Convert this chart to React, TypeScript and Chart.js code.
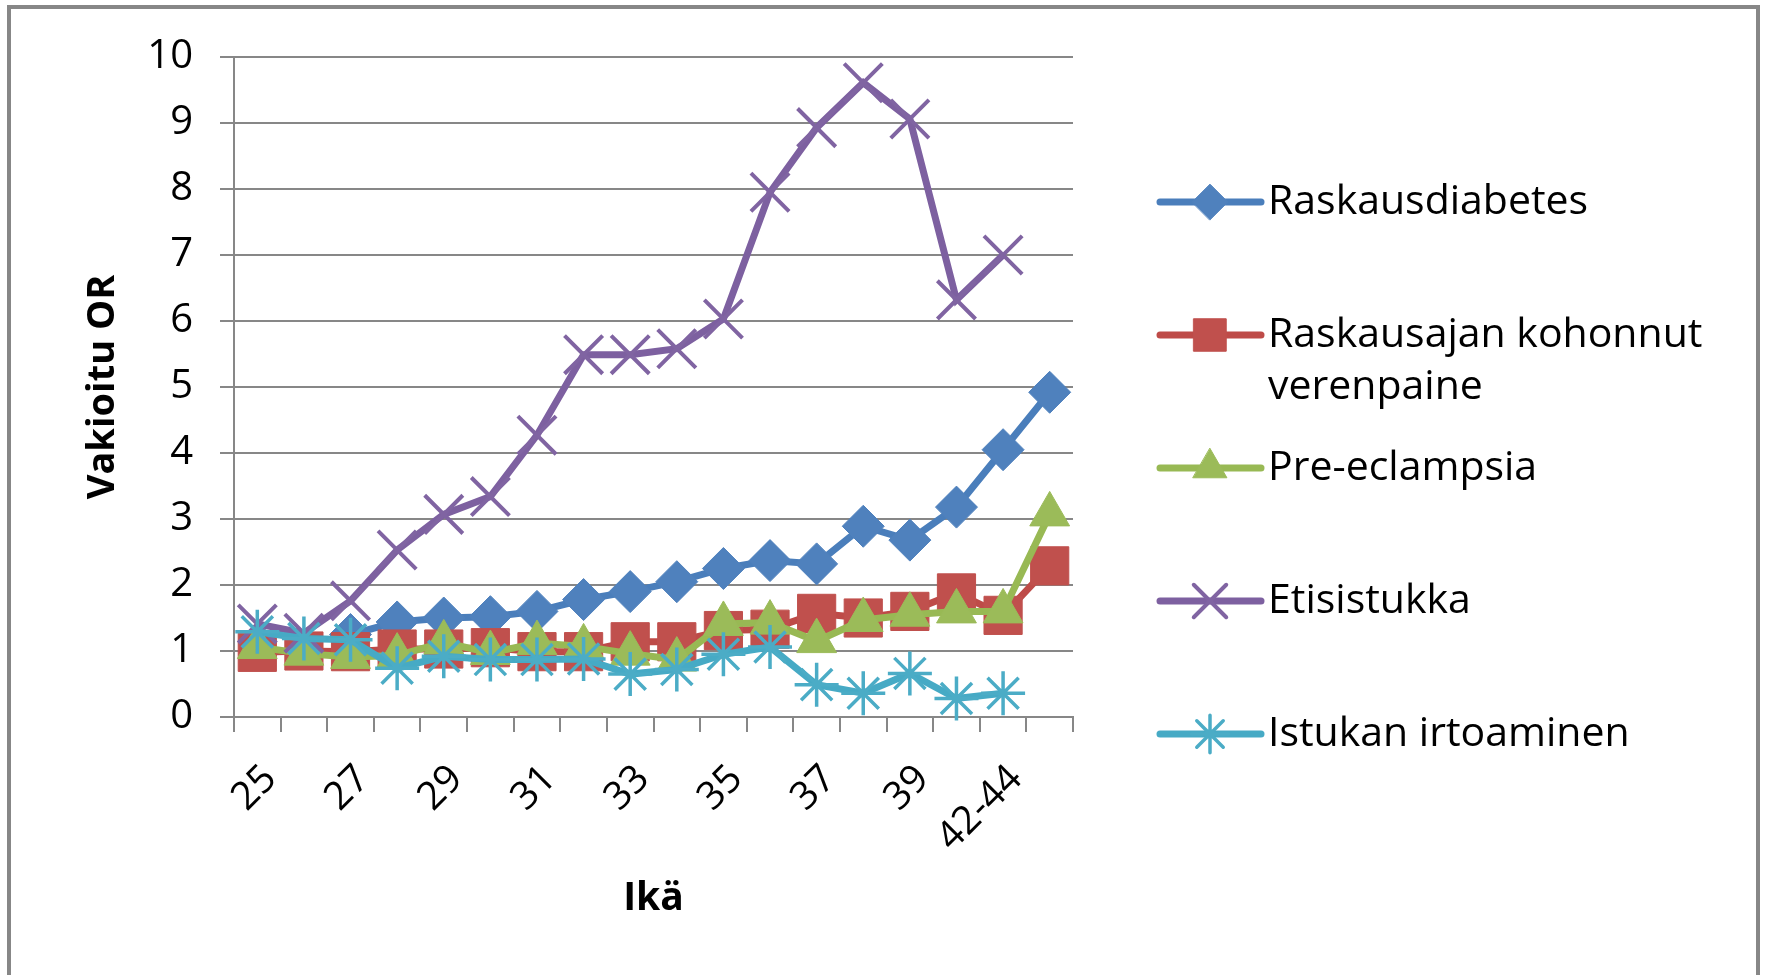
import React, { useEffect, useRef } from 'react';
import { Chart, registerables } from 'chart.js';
import { drawPoint } from 'chart.js/helpers';

Chart.register(...registerables);

// ---- Data ----
const categories = ['25', '26', '27', '28', '29', '30', '31', '32', '33', '34', '35', '36', '37', '38', '39', '40-41', '42-44', '45+'];
const shownTickLabels = ['25', '', '27', '', '29', '', '31', '', '33', '', '35', '', '37', '', '39', '', '42-44', ''];
const yTicks = [0, 1, 2, 3, 4, 5, 6, 7, 8, 9, 10];

const raskausdiabetes = [null, null, 1.25, 1.44, 1.5, 1.52, 1.6, 1.78, 1.9, 2.05, 2.25, 2.37, 2.32, 2.89, 2.68, 3.18, 4.05, 4.92];
const kohonnutVerenpaine = [0.98, 1.0, 0.99, 1.03, 1.03, 1.05, 0.99, 0.99, 1.14, 1.14, 1.31, 1.33, 1.57, 1.5, 1.6, 1.88, 1.54, 2.29];
const preEclampsia = [1.06, 0.96, 0.91, 0.93, 1.13, 0.97, 1.12, 1.07, 0.96, 0.87, 1.41, 1.43, 1.15, 1.47, 1.55, 1.6, 1.6, 3.07];
const etisistukka = [1.41, 1.27, 1.76, 2.53, 3.07, 3.34, 4.27, 5.49, 5.49, 5.58, 6.03, 7.95, 8.93, 9.61, 9.06, 6.32, 7.0, null];
const istukanIrtoaminen = [1.29, 1.19, 1.17, 0.74, 0.92, 0.87, 0.87, 0.88, 0.65, 0.72, 0.95, 1.06, 0.49, 0.36, 0.66, 0.28, 0.36, null];

const seriesNames = ['Raskausdiabetes', 'Raskausajan kohonnut verenpaine', 'Pre-eclampsia', 'Etisistukka', 'Istukan irtoaminen'];

const FONT = "'Open Sans', 'DejaVu Sans', sans-serif";
const GRID = '#878787';

const legendPlugin = {
  id: 'customLegend',
  afterDraw(chart: any) {
    const ctx: CanvasRenderingContext2D = chart.ctx;
    const lineX0 = 1160;
    const lineX1 = 1261;
    const markerX = 1210;
    const textX = 1268;
    const firstY = 202;
    const step = 133;
    const lineH = 52;
    const maxW = 1765 - textX - 12;
    ctx.save();
    ctx.font = `41px ${FONT}`;
    ctx.textBaseline = 'middle';
    ctx.textAlign = 'left';
    chart.data.datasets.forEach((ds: any, i: number) => {
      const y = firstY + i * step;
      ctx.save();
      ctx.strokeStyle = ds.borderColor;
      ctx.lineWidth = 7;
      ctx.lineCap = 'round';
      ctx.beginPath();
      ctx.moveTo(lineX0, y);
      ctx.lineTo(lineX1, y);
      ctx.stroke();
      ctx.fillStyle = ds.pointBackgroundColor;
      ctx.strokeStyle = ds.pointBorderColor;
      ctx.lineWidth = ds.pointBorderWidth;
      drawPoint(ctx, { pointStyle: ds.pointStyle, rotation: 0, radius: ds.pointRadius * 0.85, borderWidth: ds.pointBorderWidth }, markerX, y);
      ctx.restore();
      const words = String(ds.label).split(' ');
      const lines: string[] = [];
      let cur = '';
      for (const w of words) {
        const test = cur ? cur + ' ' + w : w;
        if (ctx.measureText(test).width > maxW && cur) {
          lines.push(cur);
          cur = w;
        } else {
          cur = test;
        }
      }
      if (cur) lines.push(cur);
      ctx.fillStyle = '#000';
      lines.forEach((ln, k) => ctx.fillText(ln, textX, y + k * lineH));
    });
    ctx.restore();
  },
};

export default function App() {
  const ref = useRef<HTMLCanvasElement>(null);
  useEffect(() => {
    document.body.style.margin = '0';
    const mk = (label: string, data: (number | null)[], line: string, fill: string, style: string, radius: number, bw: number, order: number) => ({
      label,
      data,
      borderColor: line,
      borderWidth: 7,
      pointStyle: style,
      pointRadius: radius,
      pointBackgroundColor: fill,
      pointBorderColor: fill,
      pointBorderWidth: bw,
      tension: 0,
      clip: false,
      order,
    });
    const chart = new Chart(ref.current as HTMLCanvasElement, {
      type: 'line',
      data: {
        labels: categories,
        datasets: [
          mk(seriesNames[0], raskausdiabetes, '#4a7ebb', '#4f81bd', 'rectRot', 21, 1, 5),
          mk(seriesNames[1], kohonnutVerenpaine, '#be4b48', '#c0504d', 'rect', 27, 1, 4),
          mk(seriesNames[2], preEclampsia, '#98b954', '#9bbb59', 'triangle', 23, 1, 3),
          mk(seriesNames[3], etisistukka, '#7d60a0', '#8064a2', 'crossRot', 27, 4, 2),
          mk(seriesNames[4], istukanIrtoaminen, '#46aac5', '#4bacc6', 'star', 22, 3.5, 1),
        ] as any,
      },
      options: {
        responsive: false,
        animation: false,
        devicePixelRatio: 1,
        layout: { padding: { left: 0, top: 57, right: 692, bottom: 0 } },
        plugins: { legend: { display: false }, tooltip: { enabled: false } },
        scales: {
          x: {
            offset: true,
            grid: { offset: true, drawOnChartArea: false, drawTicks: true, tickLength: 15, color: GRID, lineWidth: 2 },
            border: { display: true, color: GRID, width: 2 },
            ticks: {
              autoSkip: false,
              minRotation: 45,
              maxRotation: 45,
              padding: 24,
              labelOffset: 13,
              color: '#000',
              font: { family: FONT, size: 39 },
              callback: (_v: any, i: number) => shownTickLabels[i],
            },
            title: {
              display: true,
              text: 'Ikä',
              color: '#000',
              font: { family: FONT, size: 39, weight: 'bold' },
              padding: { top: 0, bottom: 53 },
            },
            afterFit: (s: any) => { s.height = 258; },
          },
          y: {
            min: 0,
            max: 10,
            afterBuildTicks: (s: any) => { s.ticks = yTicks.map((v) => ({ value: v })); },
            ticks: { padding: 27, color: '#000', font: { family: FONT, size: 40 } },
            grid: { color: GRID, lineWidth: 2, tickLength: 14 },
            border: { display: true, color: GRID, width: 2 },
            title: {
              display: true,
              text: 'Vakioitu OR',
              color: '#000',
              font: { family: FONT, size: 38, weight: 'bold' },
              padding: { top: 80, bottom: 0 },
            },
            afterFit: (s: any) => { s.width = 234; },
          },
        },
      } as any,
      plugins: [legendPlugin],
    });
    return () => chart.destroy();
  }, []);

  return (
    <div style={{ position: 'fixed', left: 0, top: 0, width: 1765, height: 975, overflow: 'hidden', background: '#fff' }}>
      <div
        style={{
          position: 'absolute',
          left: 7,
          top: 5,
          width: 1753,
          height: 1000,
          boxSizing: 'border-box',
          borderTop: '4px solid #878787',
          borderLeft: '4px solid #878787',
          borderRight: '4px solid #878787',
        }}
      />
      <canvas ref={ref} width={1765} height={975} style={{ position: 'absolute', left: 0, top: 0, width: 1765, height: 975 }} />
    </div>
  );
}
